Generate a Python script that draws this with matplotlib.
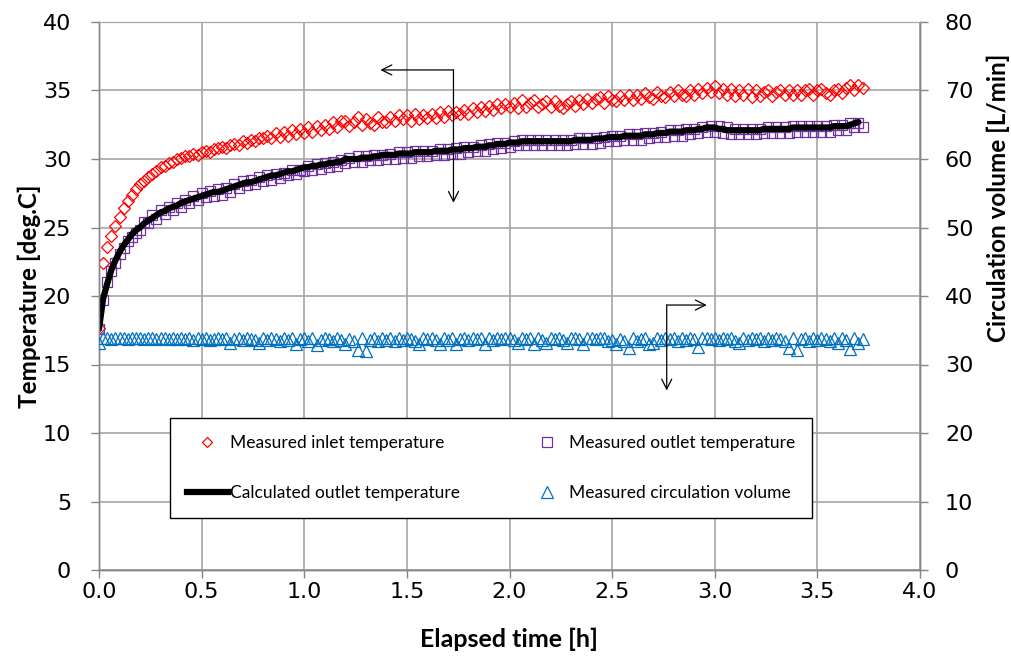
import numpy as np
import matplotlib.pyplot as plt
from matplotlib.lines import Line2D

# sampling: one reading every 0.02 h
dt = 0.02

inlet_temp = [
    17.7, 22.4, 23.6, 24.4, 25.1, 25.8, 26.4, 26.9, 27.4, 27.8,
    28.2, 28.4, 28.7, 28.9, 29.1, 29.4, 29.5, 29.7, 29.8, 30.0,
    30.1, 30.2, 30.2, 30.4, 30.3, 30.5, 30.6, 30.5, 30.7, 30.8,
    30.9, 30.8, 31.0, 31.1, 31.0, 31.3, 31.2, 31.4, 31.3, 31.5,
    31.5, 31.7, 31.5, 31.9, 31.6, 32.0, 31.7, 32.1, 31.8, 32.2,
    31.9, 32.3, 32.0, 32.4, 32.1, 32.5, 32.2, 32.7, 32.3, 32.8,
    32.8, 32.4, 32.7, 33.1, 32.5, 32.9, 32.6, 32.5, 33.1, 32.7,
    32.7, 33.1, 32.8, 33.2, 32.9, 33.2, 32.8, 33.3, 32.9, 33.2,
    33.0, 33.3, 33.0, 33.4, 33.1, 33.5, 33.2, 33.4, 33.3, 33.6,
    33.3, 33.7, 33.4, 33.8, 33.5, 33.9, 33.6, 34.0, 33.7, 34.0,
    33.8, 34.1, 33.7, 34.3, 33.8, 34.1, 34.3, 33.8, 34.0, 34.2,
    33.8, 34.2, 33.9, 33.7, 34.0, 34.2, 33.9, 34.3, 34.0, 34.4,
    34.1, 34.4, 34.5, 34.1, 34.6, 34.3, 34.2, 34.6, 34.3, 34.7,
    34.3, 34.7, 34.4, 34.8, 34.5, 34.4, 34.9, 34.6, 34.5, 34.9,
    34.6, 35.0, 34.7, 34.6, 35.0, 34.7, 35.1, 34.8, 35.2, 34.9,
    35.3, 34.8, 35.1, 34.7, 35.1, 34.6, 35.0, 34.7, 35.1, 34.5,
    35.0, 34.6, 34.9, 35.0, 34.6, 34.9, 35.0, 34.7, 35.0, 34.7,
    35.0, 34.7, 35.0, 35.1, 34.7, 35.0, 35.1, 34.8, 34.7, 35.0,
    35.1, 34.8, 35.2, 35.4, 35.0, 35.4, 35.2,
]

outlet_temp = [
    17.6, 19.7, 21.0, 21.8, 22.4, 23.1, 23.5, 24.0, 24.3, 24.6,
    24.8, 25.4, 25.3, 25.9, 25.6, 26.3, 26.0, 26.5, 26.3, 26.8,
    26.5, 27.0, 26.8, 27.3, 27.0, 27.5, 27.2, 27.7, 27.3, 27.8,
    27.4, 27.9, 27.6, 28.2, 27.9, 28.4, 28.1, 28.5, 28.2, 28.7,
    28.4, 28.8, 28.5, 28.9, 28.6, 29.0, 28.8, 29.2, 28.9, 29.2,
    29.1, 29.5, 29.2, 29.6, 29.3, 29.7, 29.4, 29.8, 29.5, 29.9,
    29.7, 30.1, 29.8, 30.2, 29.8, 30.2, 29.9, 30.3, 29.9, 30.3,
    30.0, 30.4, 30.0, 30.5, 30.1, 30.5, 30.1, 30.6, 30.2, 30.6,
    30.2, 30.6, 30.3, 30.7, 30.3, 30.7, 30.4, 30.8, 30.4, 30.9,
    30.5, 30.9, 30.6, 31.0, 30.6, 31.1, 30.7, 31.2, 30.8, 31.2,
    30.9, 31.3, 31.0, 31.4, 31.0, 31.4, 31.0, 31.4, 31.0, 31.4,
    31.0, 31.4, 31.0, 31.4, 31.0, 31.4, 31.1, 31.5, 31.1, 31.5,
    31.1, 31.5, 31.2, 31.6, 31.3, 31.7, 31.3, 31.7, 31.4, 31.8,
    31.4, 31.8, 31.4, 31.9, 31.5, 31.9, 31.6, 32.0, 31.6, 32.1,
    31.7, 32.1, 31.7, 32.2, 31.8, 32.2, 31.9, 32.3, 32.0, 32.4,
    32.0, 32.4, 31.9, 32.3, 31.8, 32.2, 31.8, 32.2, 31.8, 32.2,
    31.8, 32.2, 31.9, 32.3, 31.9, 32.3, 31.9, 32.3, 31.9, 32.4,
    32.0, 32.4, 32.0, 32.4, 32.0, 32.4, 32.0, 32.4, 32.0, 32.5,
    32.1, 32.5, 32.1, 32.6, 32.3, 32.6, 32.3,
]

calc_temp = [
    17.6, 19.8, 20.9, 21.9, 22.6, 23.2, 23.7, 24.1, 24.5, 24.8,
    25.0, 25.3, 25.5, 25.7, 25.9, 26.1, 26.2, 26.4, 26.5, 26.6,
    26.8, 26.9, 27.0, 27.1, 27.2, 27.3, 27.4, 27.5, 27.6, 27.6,
    27.7, 27.8, 27.9, 28.0, 28.1, 28.2, 28.3, 28.3, 28.4, 28.5,
    28.6, 28.7, 28.8, 28.8, 28.9, 29.0, 29.1, 29.1, 29.2, 29.3,
    29.4, 29.4, 29.5, 29.5, 29.6, 29.6, 29.7, 29.7, 29.8, 29.8,
    30.0, 30.0, 30.0, 30.0, 30.1, 30.1, 30.1, 30.2, 30.2, 30.3,
    30.3, 30.3, 30.3, 30.4, 30.4, 30.4, 30.4, 30.5, 30.5, 30.5,
    30.5, 30.5, 30.6, 30.6, 30.6, 30.6, 30.7, 30.7, 30.7, 30.8,
    30.8, 30.8, 30.9, 30.9, 30.9, 31.0, 31.0, 31.1, 31.1, 31.1,
    31.2, 31.2, 31.2, 31.3, 31.3, 31.3, 31.3, 31.3, 31.3, 31.3,
    31.3, 31.3, 31.3, 31.3, 31.3, 31.3, 31.4, 31.4, 31.4, 31.4,
    31.4, 31.5, 31.5, 31.5, 31.6, 31.6, 31.6, 31.6, 31.7, 31.7,
    31.7, 31.7, 31.7, 31.8, 31.8, 31.8, 31.9, 31.9, 31.9, 32.0,
    32.0, 32.0, 32.0, 32.1, 32.1, 32.1, 32.2, 32.2, 32.3, 32.3,
    32.3, 32.2, 32.2, 32.1, 32.1, 32.1, 32.1, 32.1, 32.1, 32.1,
    32.1, 32.1, 32.2, 32.2, 32.2, 32.2, 32.2, 32.2, 32.2, 32.3,
    32.3, 32.3, 32.3, 32.3, 32.3, 32.3, 32.3, 32.3, 32.3, 32.4,
    32.4, 32.4, 32.4, 32.5, 32.6, 32.7,
]

circ_volume = [
    33.2, 33.8, 33.9, 33.7, 33.9, 33.8, 33.9, 33.7, 33.9, 33.8,
    33.9, 33.7, 33.8, 33.9, 33.7, 33.8, 33.9, 33.7, 33.8, 33.7,
    33.8, 33.7, 33.9, 33.6, 33.8, 33.7, 33.8, 33.6, 33.7, 33.8,
    33.7, 33.8, 33.2, 33.7, 33.9, 33.6, 33.8, 33.7, 33.6, 33.1,
    33.8, 33.6, 33.9, 33.7, 33.5, 33.8, 33.6, 33.9, 33.0, 33.7,
    33.9, 33.5, 33.8, 32.9, 33.6, 33.8, 33.7, 33.5, 33.9, 33.6,
    33.0, 33.7, 33.5, 32.1, 33.8, 32.0, 33.6, 33.9, 33.5, 33.8,
    33.6, 33.9, 33.5, 33.8, 33.6, 33.9, 33.7, 33.5, 33.0, 33.8,
    33.7, 33.9, 33.6, 33.0, 33.8, 33.6, 33.9, 33.0, 33.7, 33.9,
    33.6, 33.8, 33.7, 33.9, 33.0, 33.8, 33.6, 33.9, 33.7, 33.8,
    33.9, 33.6, 33.1, 33.8, 33.7, 33.9, 33.0, 33.8, 33.6, 33.2,
    33.8, 33.7, 33.9, 33.6, 33.1, 33.8, 33.9, 33.7, 33.0, 33.8,
    33.9, 33.7, 33.8, 33.9, 33.5, 33.6, 33.0, 33.7, 33.4, 32.4,
    33.8, 33.5, 33.7, 33.9, 33.0, 33.2, 33.8, 33.6, 33.9, 33.7,
    33.8, 33.5, 33.9, 33.6, 33.8, 33.7, 32.5, 33.8, 33.9, 33.7,
    33.9, 33.6, 33.8, 33.7, 33.9, 33.5, 33.1, 33.8, 33.6, 33.9,
    33.7, 33.8, 33.5, 33.9, 33.6, 33.8, 33.7, 33.5, 32.4, 33.8,
    32.1, 33.7, 33.9, 33.5, 33.8, 33.6, 33.9, 33.7, 33.5, 33.8,
    33.2, 33.8, 33.6, 32.2, 33.9, 33.1, 33.7,
]

x_ticks = [0.0, 0.5, 1.0, 1.5, 2.0, 2.5, 3.0, 3.5, 4.0]
legend_labels = ['Measured inlet temperature', 'Calculated outlet temperature',
                 'Measured outlet temperature', 'Measured circulation volume']

t_meas = np.arange(len(inlet_temp)) * dt
t_calc = np.arange(len(calc_temp)) * dt

label_font = 'Lato'
axis_gray = '#868686'
grid_gray = '#a6a6a6'

fig = plt.figure(figsize=(10.11, 6.59), dpi=100)
ax = fig.add_axes([99 / 1011, 89 / 659, 821 / 1011, 548 / 659])
ax2 = ax.twinx()

ax.plot(t_meas, inlet_temp, linestyle='none', marker='D', ms=6, mfc='none',
        mec='#ff0000', mew=0.9, zorder=3)
ax.plot(t_meas, outlet_temp, linestyle='none', marker='s', ms=7.5, mfc='none',
        mec='#7030a0', mew=0.9, zorder=3)
ax.plot(t_calc, calc_temp, color='black', lw=4.5, solid_capstyle='round', zorder=4)
ax2.plot(t_meas, circ_volume, linestyle='none', marker='^', ms=9, mfc='none',
         mec='#0070c0', mew=0.9, zorder=3)

ax.set_xlim(0, 4.0)
ax.set_ylim(0, 40)
ax2.set_ylim(0, 80)
ax.set_xticks(x_ticks)
ax.set_xticklabels([f'{v:.1f}' for v in x_ticks])
ax.set_yticks(np.arange(0, 41, 5))
ax2.set_yticks(np.arange(0, 81, 10))

ax.grid(True, color=grid_gray, lw=1.2)
ax.set_axisbelow(True)

for a in (ax, ax2):
    for side in ('left', 'bottom', 'right'):
        a.spines[side].set_color(axis_gray)
        a.spines[side].set_linewidth(1.0)
    a.spines['top'].set_color(grid_gray)
    a.tick_params(length=6, width=1.0, color=axis_gray, labelsize=16,
                  direction='out')
ax.tick_params(axis='y', pad=14)
ax.tick_params(axis='x', pad=3)
ax2.tick_params(axis='y', pad=12)

ax.set_xlabel('Elapsed time [h]', fontsize=18, fontweight='bold', family=label_font)
ax.set_ylabel('Temperature [deg.C]', fontsize=17.5, fontweight='bold', family=label_font)
ax2.set_ylabel('Circulation volume [L/min]', fontsize=17.5, fontweight='bold',
               family=label_font, rotation=90)
ax.xaxis.set_label_coords(0.5, -0.106)
ax.yaxis.set_label_coords(-0.071, 0.5)
ax2.yaxis.set_label_coords(1.081, 0.68)

# direction arrows (corner -> tips), in temperature coordinates
arrow_kw = dict(arrowstyle='->', color='black', lw=0.9, shrinkA=0, shrinkB=0,
                mutation_scale=18)
ax2.annotate('', xy=(1.371, 36.5), xytext=(1.727, 36.5), xycoords=ax.transData,
             textcoords=ax.transData, arrowprops=arrow_kw)
ax2.annotate('', xy=(1.727, 26.8), xytext=(1.727, 36.5), xycoords=ax.transData,
             textcoords=ax.transData, arrowprops=arrow_kw)
ax2.annotate('', xy=(2.961, 19.34), xytext=(2.766, 19.34), xycoords=ax.transData,
             textcoords=ax.transData, arrowprops=arrow_kw)
ax2.annotate('', xy=(2.766, 13.1), xytext=(2.766, 19.34), xycoords=ax.transData,
             textcoords=ax.transData, arrowprops=arrow_kw)

handles = [
    Line2D([], [], linestyle='none', marker='D', ms=5.5, mfc='none', mec='#ff0000', mew=0.9),
    Line2D([], [], color='black', lw=4.5),
    Line2D([], [], linestyle='none', marker='s', ms=7, mfc='none', mec='#7030a0', mew=0.9),
    Line2D([], [], linestyle='none', marker='^', ms=8.5, mfc='none', mec='#0070c0', mew=0.9),
]
leg = ax2.legend(handles, legend_labels, ncol=2, loc='upper left',
                 bbox_to_anchor=(0.0865, 0.277), prop={'family': label_font, 'size': 12.5},
                 frameon=True, fancybox=False, edgecolor='black', framealpha=1,
                 labelspacing=2.0, borderpad=0.95, handlelength=2.4, handletextpad=0.1,
                 columnspacing=3.8, borderaxespad=0)
leg.get_frame().set_linewidth(1.0)

fig.savefig('out.png', dpi=100)
